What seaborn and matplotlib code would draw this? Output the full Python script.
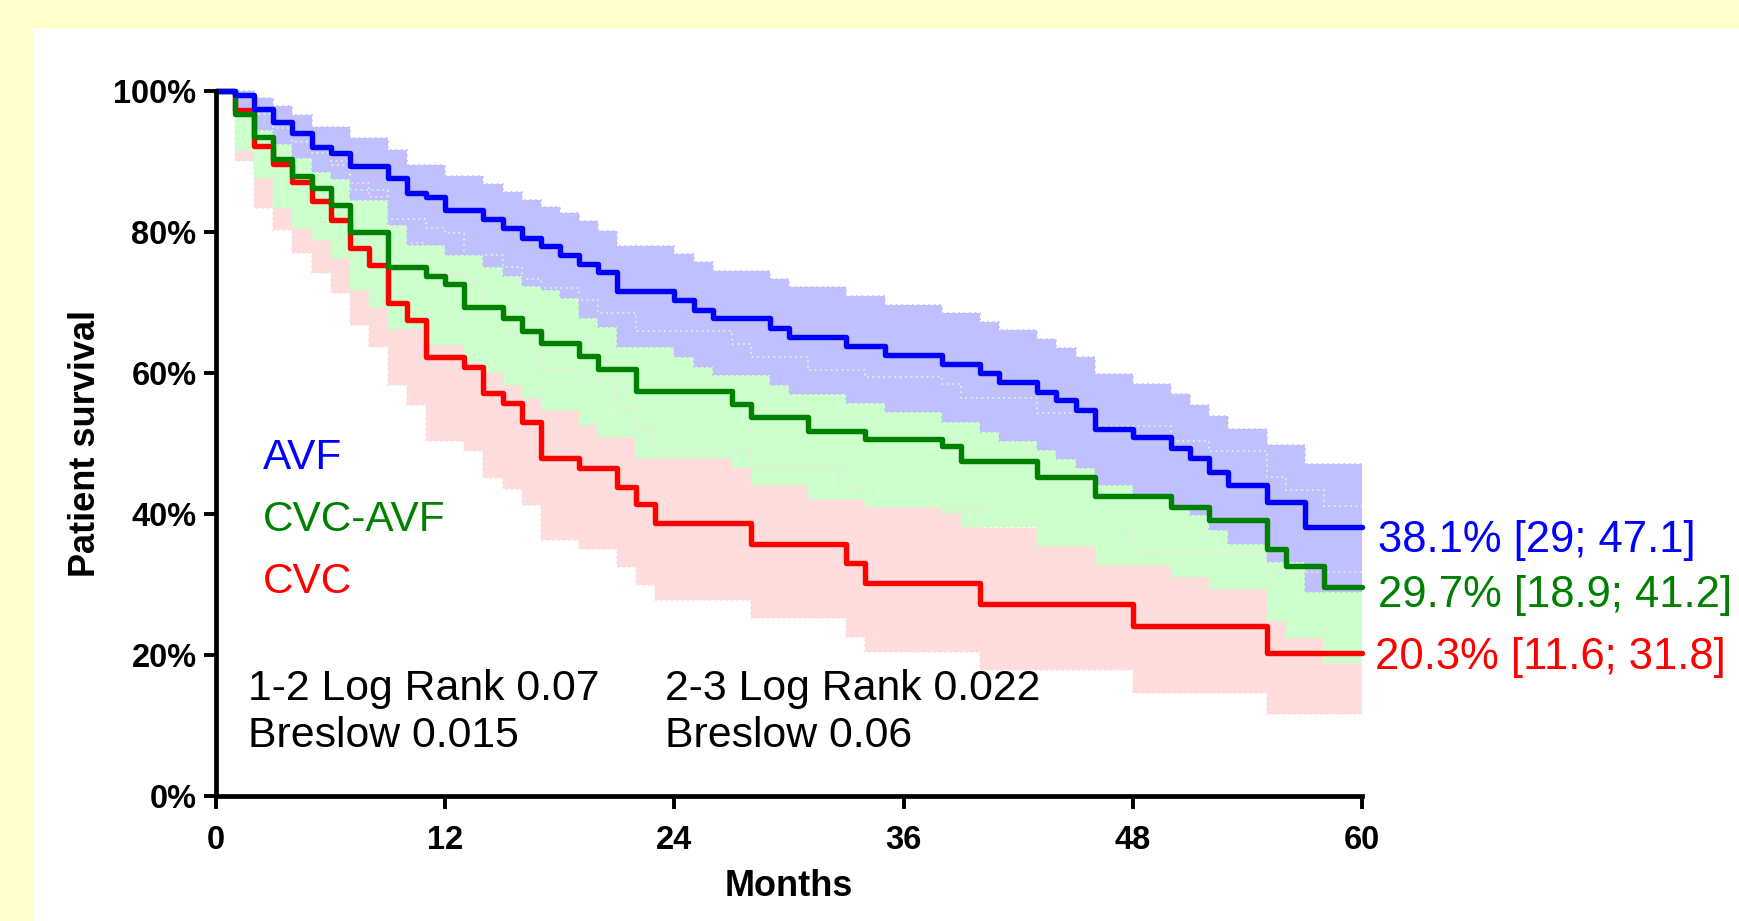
import matplotlib
matplotlib.use("Agg")
import matplotlib.pyplot as plt
import seaborn as sns
import pandas as pd
from matplotlib.patches import Rectangle

# ---------------- data ----------------
groups = ["CVC", "CVC-AVF", "AVF"]

avf_t = [0, 1, 2, 3, 4, 5, 6, 7, 9, 10, 11, 12, 14, 15, 16, 17, 18, 19, 20, 21, 24, 25, 26, 29, 30,
         33, 35, 38, 40, 41, 43, 44, 45, 46, 48, 50, 51, 52, 53, 55, 57]
avf_s = [100, 99.4, 97.5, 95.6, 94.1, 92.0, 91.2, 89.3, 87.6, 85.5, 84.9, 83.1, 81.8, 80.6, 79.2, 78.0,
         76.7, 75.5, 74.3, 71.7, 70.4, 69.0, 67.8, 66.4, 65.1, 63.9, 62.6, 61.3, 60.0, 58.7, 57.3, 56.1,
         54.8, 52.1, 50.9, 49.3, 47.9, 46.0, 44.1, 41.7, 38.1]
avf_hi = [100, 100, 99.0, 97.9, 96.6, 94.9, 94.9, 93.3, 91.6, 89.5, 89.5, 88.0, 86.8, 85.7, 84.5, 83.6,
          82.7, 81.5, 80.2, 78.0, 76.9, 75.8, 74.5, 73.3, 72.2, 70.9, 69.6, 68.5, 67.3, 66.1, 64.8, 63.5,
          62.2, 59.9, 58.4, 57.0, 55.5, 53.9, 52.1, 49.8, 47.1]
avf_lo = [100, 96.5, 94.5, 92.5, 90.5, 88.5, 87.5, 84.5, 81.0, 78.2, 78.2, 76.8, 75.1, 73.7, 72.3, 71.8,
          70.6, 67.8, 66.5, 63.7, 62.3, 60.9, 59.7, 58.3, 57.0, 55.7, 54.4, 53.1, 51.7, 50.4, 49.1, 47.8,
          46.5, 44.1, 42.7, 41.3, 39.9, 37.7, 35.8, 33.2, 29.0]

mix_t = [0, 1, 2, 3, 4, 5, 6, 7, 8, 9, 11, 12, 13, 14, 15, 16, 17, 19, 20, 22, 27, 28, 31, 34, 38, 39,
         43, 46, 50, 52, 55, 56, 58]
mix_s = [100, 96.8, 93.5, 90.4, 88.0, 86.3, 83.8, 80.0, 80.0, 75.1, 73.7, 72.6, 69.4, 69.4, 67.8, 65.9,
         64.2, 62.4, 60.5, 57.5, 55.6, 53.7, 51.8, 50.6, 49.7, 47.5, 45.2, 42.6, 41.0, 39.2, 35.1, 32.6, 29.7]
mix_hi = [100, 99.5, 96.8, 94.7, 92.8, 91.2, 89.5, 86.0, 86.0, 81.9, 80.5, 79.8, 76.7, 76.7, 75.1, 73.4,
          72.0, 70.3, 68.5, 65.9, 64.1, 62.3, 60.4, 59.5, 58.5, 56.5, 54.3, 52.5, 50.4, 48.9, 45.3, 43.4, 41.2]
mix_lo = [100, 91.6, 87.6, 83.4, 80.5, 78.9, 76.3, 71.8, 69.4, 66.3, 64.0, 64.0, 61.5, 60.2, 58.3, 56.4,
          54.8, 52.6, 50.9, 48.0, 46.5, 44.1, 42.1, 41.0, 40.1, 38.1, 35.4, 32.8, 31.1, 29.3, 24.8, 22.4, 18.9]

cvc_t = [0, 1, 2, 3, 4, 5, 6, 7, 8, 9, 10, 11, 13, 14, 15, 16, 17, 19, 21, 22, 23, 28, 33, 34, 40, 48, 55]
cvc_s = [100, 97.3, 92.2, 89.6, 87.1, 84.4, 81.7, 77.7, 75.3, 69.9, 67.5, 62.2, 60.9, 57.1, 55.7, 53.1,
         47.9, 46.5, 43.9, 41.4, 38.7, 35.8, 33.1, 30.2, 27.3, 24.1, 20.3]
cvc_hi = [100, 99.5, 97.5, 95.5, 94.0, 92.0, 90.0, 87.0, 85.0, 80.5, 78.5, 74.0, 73.0, 69.5, 68.0, 65.5,
          60.5, 59.0, 55.0, 52.1, 49.3, 46.7, 43.6, 41.0, 38.0, 34.4, 31.8]
cvc_lo = [100, 90.0, 83.4, 80.3, 77.0, 74.2, 71.3, 66.8, 63.7, 58.3, 55.5, 50.3, 48.9, 45.1, 43.6, 41.3,
          36.3, 35.1, 32.5, 30.0, 27.8, 25.2, 22.6, 20.4, 17.9, 14.6, 11.6]

end_labels = ["38.1% [29; 47.1]", "29.7% [18.9; 41.2]", "20.3% [11.6; 31.8]"]
x_ticks = [0, 12, 24, 36, 48, 60]
y_ticks = [0, 20, 40, 60, 80, 100]
y_ticklabels = ["0%", "20%", "40%", "60%", "80%", "100%"]
stats_left = "1-2 Log Rank 0.07\nBreslow 0.015"
stats_right = "2-3 Log Rank 0.022\nBreslow 0.06"

# ---------------- styling ----------------
sns.set_theme(style="ticks")
plt.rcParams["font.family"] = ["Liberation Sans", "DejaVu Sans"]
plt.rcParams["text.color"] = "black"
plt.rcParams["axes.labelcolor"] = "black"

line_col = {"AVF": "#0000FF", "CVC-AVF": "#008000", "CVC": "#FF0000"}
band_col = {"AVF": "#C0C0FF", "CVC-AVF": "#CCFFCC", "CVC": "#FFDDDD"}
XMAX = 60

series = {
    "AVF": (avf_t, avf_s, avf_lo, avf_hi),
    "CVC-AVF": (mix_t, mix_s, mix_lo, mix_hi),
    "CVC": (cvc_t, cvc_s, cvc_lo, cvc_hi),
}

W, H = 1739, 921
fig = plt.figure(figsize=(W / 100, H / 100), dpi=100, facecolor="#FFFFCC")
fig.patches.append(Rectangle((33 / W, 0), 1, 1 - 28 / H, transform=fig.transFigure,
                             facecolor="white", edgecolor="none", zorder=-10))
ax = fig.add_axes([216 / W, 1 - 796 / H, 1146 / W, 705 / H])
ax.set_facecolor("white")

# bands: red bottom, green, blue on top
for g in groups:
    t, s, lo, hi = series[g]
    tt = list(t) + [XMAX]
    ax.fill_between(tt, list(lo) + [lo[-1]], list(hi) + [hi[-1]], step="post",
                    color=band_col[g], lw=0, zorder=1)
for g in groups:
    t, s, lo, hi = series[g]
    tt = list(t) + [XMAX]
    for edge in (lo, hi):
        ax.step(tt, list(edge) + [edge[-1]], where="post", color=band_col[g],
                lw=1.3, ls=(0, (1, 2)), zorder=1.5)

rows = []
for g in groups:
    t, s, lo, hi = series[g]
    for ti, si in zip(list(t) + [XMAX], list(s) + [s[-1]]):
        rows.append({"Months": ti, "Survival": si, "Group": g})
df = pd.DataFrame(rows)

sns.lineplot(data=df, x="Months", y="Survival", hue="Group", hue_order=groups,
             palette=line_col, estimator=None, sort=False, drawstyle="steps-post",
             lw=3.9, legend=False, ax=ax, zorder=3)
for ln in ax.lines:
    ln.set_clip_on(False)

ax.set_xlim(0, XMAX)
ax.set_ylim(0, 100)
ax.set_xticks(x_ticks)
ax.set_yticks(y_ticks)
ax.set_yticklabels(y_ticklabels)
for sp in ["top", "right"]:
    ax.spines[sp].set_visible(False)
for sp in ["left", "bottom"]:
    ax.spines[sp].set_linewidth(3.4)
    ax.spines[sp].set_color("black")
    ax.spines[sp].set_zorder(4)
ax.tick_params(axis="both", direction="out", length=9, width=2.8, colors="black",
               labelcolor="black")
ax.tick_params(axis="y", pad=5)
ax.tick_params(axis="x", pad=12)
for lab in ax.get_xticklabels() + ax.get_yticklabels():
    lab.set_fontsize(23.5)
    lab.set_fontweight("bold")

ax.set_xlabel("Months", fontsize=26, fontweight="bold", color="black")
ax.set_ylabel("Patient survival", fontsize=26, fontweight="bold", color="black")
ax.xaxis.set_label_coords(0.5, -0.103)
ax.yaxis.set_label_coords(-0.099, 0.5)

# group names
ax.text(2.45, 47.9, "AVF", color=line_col["AVF"], fontsize=30.5, va="center", ha="left")
ax.text(2.45, 39.1, "CVC-AVF", color=line_col["CVC-AVF"], fontsize=30.5, va="center", ha="left")
ax.text(2.45, 30.3, "CVC", color=line_col["CVC"], fontsize=30.5, va="center", ha="left")

# statistics
ax.text(1.7, 11.9, stats_left, color="black", fontsize=30.8, va="center", ha="left", linespacing=1.22)
ax.text(23.5, 11.9, stats_right, color="black", fontsize=30.8, va="center", ha="left", linespacing=1.22)

# end-point labels
ax.text(60.85, 36.3, end_labels[0], color=line_col["AVF"], fontsize=31.4, va="center", ha="left", clip_on=False)
ax.text(60.85, 28.4, end_labels[1], color=line_col["CVC-AVF"], fontsize=31.4, va="center", ha="left", clip_on=False)
ax.text(60.7, 19.6, end_labels[2], color=line_col["CVC"], fontsize=31.4, va="center", ha="left", clip_on=False)

fig.savefig("out.png", dpi=100, facecolor=fig.get_facecolor())
